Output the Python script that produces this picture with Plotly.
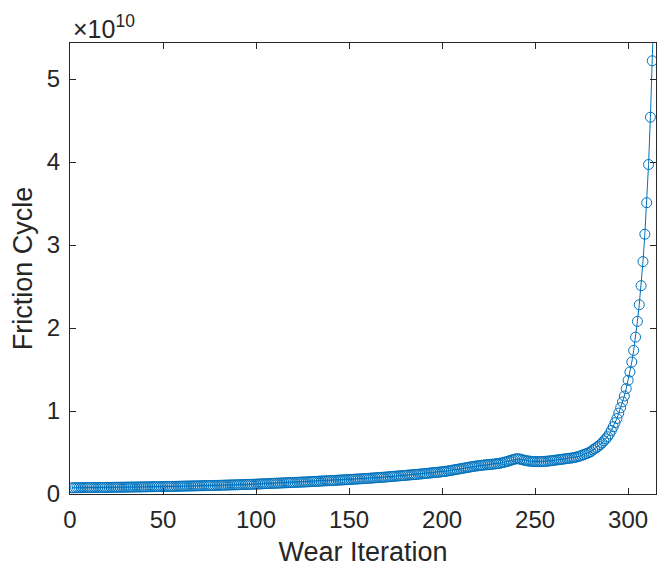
import plotly.graph_objects as go

# Wear iteration index (1..314) and friction cycle values in units of 1e10
friction_e10 = [
    0.075, 0.075, 0.075, 0.076, 0.076, 0.076, 0.076, 0.077, 0.077, 0.077,
    0.077, 0.078, 0.078, 0.078, 0.078, 0.079, 0.079, 0.079, 0.079, 0.080,
    0.080, 0.080, 0.081, 0.081, 0.081, 0.081, 0.082, 0.082, 0.082, 0.083,
    0.083, 0.083, 0.084, 0.084, 0.084, 0.085, 0.085, 0.085, 0.086, 0.086,
    0.086, 0.087, 0.087, 0.087, 0.088, 0.088, 0.089, 0.089, 0.089, 0.090,
    0.090, 0.091, 0.091, 0.091, 0.092, 0.092, 0.093, 0.093, 0.094, 0.094,
    0.095, 0.095, 0.096, 0.096, 0.097, 0.097, 0.098, 0.098, 0.099, 0.099,
    0.100, 0.100, 0.101, 0.101, 0.102, 0.102, 0.103, 0.104, 0.104, 0.105,
    0.105, 0.106, 0.107, 0.107, 0.108, 0.109, 0.109, 0.110, 0.111, 0.111,
    0.112, 0.113, 0.113, 0.114, 0.115, 0.116, 0.116, 0.117, 0.118, 0.119,
    0.120, 0.121, 0.122, 0.123, 0.124, 0.125, 0.126, 0.127, 0.128, 0.129,
    0.130, 0.131, 0.132, 0.133, 0.134, 0.135, 0.136, 0.137, 0.138, 0.139,
    0.140, 0.141, 0.142, 0.143, 0.144, 0.145, 0.146, 0.147, 0.148, 0.150,
    0.151, 0.152, 0.153, 0.155, 0.156, 0.157, 0.158, 0.159, 0.160, 0.162,
    0.163, 0.164, 0.165, 0.167, 0.168, 0.169, 0.170, 0.171, 0.173, 0.174,
    0.176, 0.177, 0.179, 0.180, 0.181, 0.183, 0.184, 0.185, 0.187, 0.188,
    0.190, 0.192, 0.193, 0.195, 0.197, 0.198, 0.200, 0.202, 0.203, 0.205,
    0.207, 0.209, 0.211, 0.213, 0.215, 0.217, 0.219, 0.220, 0.222, 0.224,
    0.226, 0.228, 0.230, 0.232, 0.234, 0.236, 0.238, 0.240, 0.242, 0.245,
    0.247, 0.249, 0.251, 0.254, 0.256, 0.258, 0.260, 0.263, 0.265, 0.268,
    0.270, 0.273, 0.277, 0.281, 0.285, 0.289, 0.293, 0.297, 0.301, 0.305,
    0.309, 0.313, 0.317, 0.321, 0.325, 0.329, 0.333, 0.336, 0.339, 0.342,
    0.345, 0.348, 0.350, 0.352, 0.354, 0.356, 0.359, 0.361, 0.364, 0.367,
    0.370, 0.375, 0.380, 0.386, 0.392, 0.399, 0.406, 0.413, 0.420, 0.425,
    0.424, 0.420, 0.414, 0.408, 0.403, 0.399, 0.396, 0.394, 0.392, 0.391,
    0.390, 0.390, 0.391, 0.392, 0.393, 0.395, 0.397, 0.399, 0.402, 0.405,
    0.408, 0.411, 0.414, 0.417, 0.420, 0.423, 0.426, 0.429, 0.432, 0.435,
    0.439, 0.444, 0.450, 0.457, 0.465, 0.473, 0.481, 0.490, 0.500, 0.510,
    0.530, 0.545, 0.560, 0.575, 0.595, 0.615, 0.640, 0.665, 0.690, 0.725,
    0.765, 0.810, 0.860, 0.910, 0.975, 1.040, 1.110, 1.180, 1.270, 1.370,
    1.470, 1.590, 1.730, 1.890, 2.080, 2.280, 2.510, 2.800, 3.130, 3.510,
    3.970, 4.540, 5.220, 5.950,
]
wear_iteration = list(range(1, len(friction_e10) + 1))
SCALE = 1e10

x_ticks = [0, 50, 100, 150, 200, 250, 300]
y_tick_units = [0, 1, 2, 3, 4, 5]
y_tick_labels = ["0", "1", "2", "3", "4", "5"]

BLUE = "#0072BD"
AX = "#262626"
FONT = "Liberation Sans, Arial, Helvetica, sans-serif"

fig = go.Figure()
fig.add_trace(go.Scatter(
    x=wear_iteration,
    y=[v * SCALE for v in friction_e10],
    mode="lines+markers",
    line=dict(color=BLUE, width=1),
    marker=dict(symbol="circle-open", size=10, color=BLUE, line=dict(width=1, color=BLUE)),
    cliponaxis=True,
    showlegend=False,
))

axis_common = dict(
    showgrid=False, zeroline=False, showline=True, linecolor=AX, linewidth=1,
    mirror="ticks", ticks="inside", ticklen=6, tickcolor=AX, tickwidth=1,
    tickfont=dict(family=FONT, size=24, color=AX),
)

fig.update_layout(
    width=657, height=571,
    margin=dict(l=70, r=1, t=43, b=77),
    paper_bgcolor="white", plot_bgcolor="white",
    font=dict(family=FONT, color=AX),
    xaxis=dict(range=[0, 315], tickvals=x_ticks, ticklabelstandoff=4,
               title=dict(text="Wear Iteration", font=dict(family=FONT, size=27, color=AX), standoff=10),
               **axis_common),
    yaxis=dict(range=[0, 5.434 * SCALE], tickvals=[v * SCALE for v in y_tick_units],
               ticktext=y_tick_labels, ticklabelstandoff=4,
               title=dict(text="Friction Cycle", font=dict(family=FONT, size=27, color=AX), standoff=6),
               **axis_common),
    annotations=[dict(
        text="×10<sup>10</sup>", xref="paper", yref="paper", x=0, y=1,
        xanchor="left", yanchor="bottom", showarrow=False, yshift=-2, xshift=1,
        font=dict(family=FONT, size=25, color=AX),
    )],
)

fig.write_html(
    "out.html",
    config={"displayModeBar": False},
    post_script="document.body.style.margin='0';document.body.style.overflow='hidden';",
)
